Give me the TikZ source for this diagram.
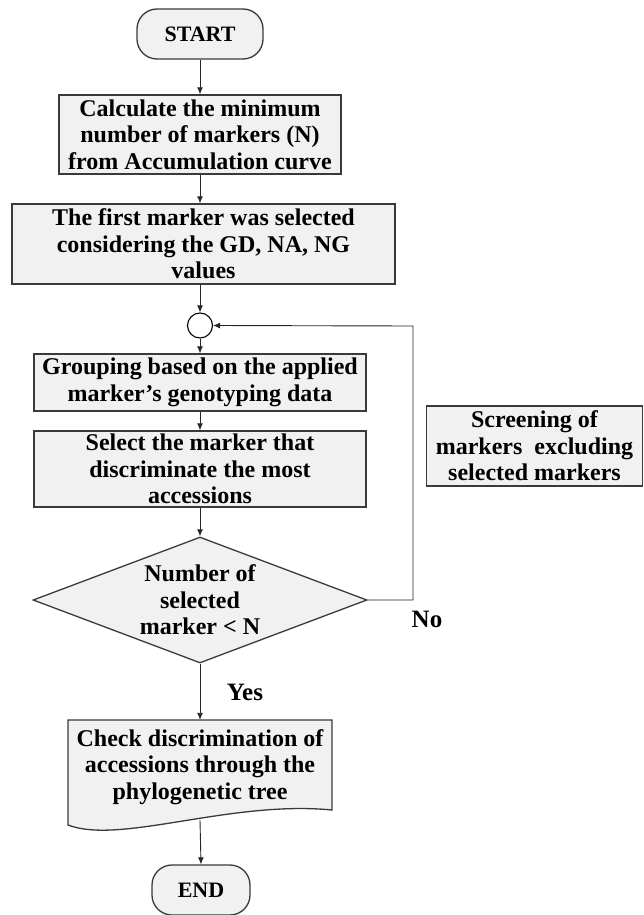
\documentclass[tikz,border=0pt]{standalone}
\usepackage{fontspec}
\setmainfont{Liberation Serif}
\usetikzlibrary{shapes.geometric,arrows.meta}
\newcommand\myfont{\fontsize{24}{26.5}\selectfont\bfseries}
\definecolor{boxfill}{HTML}{F1F1F1}
\definecolor{boxline}{HTML}{3A3A3A}
\begin{document}
\begin{tikzpicture}[x=1pt,y=-1pt,
  base/.style={draw=boxline,line width=1.3pt,fill=boxfill,align=center,inner sep=0pt,font=\myfont},
  procbox/.style={base,rectangle},
  termbox/.style={base,rectangle,rounded corners=20pt,font=\fontsize{22}{24}\selectfont\bfseries},
  decbox/.style={base,diamond,shape aspect=2.65},
  conn/.style={draw=black!85,line width=0.9pt,-{Latex[length=7pt,width=6pt]}},
  lbl/.style={font=\fontsize{25}{28}\selectfont\bfseries,inner sep=0pt}]
\useasboundingbox (0,0) rectangle (644,915);

\node[termbox,minimum width=126pt,minimum height=50pt] (start) at (200,34) {START};
\node[procbox,minimum width=282pt,minimum height=79pt] (b1) at (200,134.5)
  {Calculate the minimum\\number of markers (N)\\from Accumulation curve};
\node[procbox,minimum width=383pt,minimum height=80pt] (b2) at (203.5,244)
  {The first marker was selected\\considering the GD, NA, NG\\values};
\node[draw=black,line width=1.1pt,fill=white,circle,minimum size=25pt,inner sep=0pt] (circ) at (200,325.5) {};
\node[procbox,minimum width=332pt,minimum height=57pt] (b3) at (200,382.5)
  {Grouping based on the applied\\marker’s genotyping data};
\node[procbox,minimum width=332pt,minimum height=76pt] (b4) at (200,469)
  {Select the marker that\\discriminate the most\\accessions};
\node[decbox,minimum width=334pt,minimum height=126pt] (dec) at (200,600)
  {Number of\\selected\\marker < N};
\node[procbox,minimum width=216pt,minimum height=80pt] (scr) at (534.5,446)
  {Screening of\\markers\ \ excluding\\selected markers};

% document shape
\draw[draw=boxline,line width=1.3pt,fill=boxfill]
  (68,720) -- (332,720) -- (332,810) .. controls (230,800) and (120,845) .. (68,825) -- cycle;
\node[align=center,inner sep=0pt,font=\myfont,minimum height=94pt] (doc) at (200,767)
  {Check discrimination of\\accessions through the\\phylogenetic tree};
\coordinate (docb) at (200,820);

\node[termbox,minimum width=98pt,minimum height=50pt] (end) at (201,890) {END};

\coordinate (loopc) at (413,326);

\draw[conn] (start) -- (b1);
\draw[conn] (b1.south) -- (b1.south |- b2.north);
\draw[conn] (b2.south -| circ.north) -- (circ.north);
\draw[conn] (circ) -- (b3);
\draw[conn] (b3) -- (b4);
\draw[conn] (b4) -- (dec);
\draw[conn] (dec.east) -| (loopc) -- (circ.east);
\draw[conn] (dec.south) -- (doc.north);
\draw[conn] (docb) -- (end.north);

\node[lbl] (no) at (427,619) {No};
\node[lbl] (yes) at (245,692) {Yes};
\end{tikzpicture}
\end{document}
